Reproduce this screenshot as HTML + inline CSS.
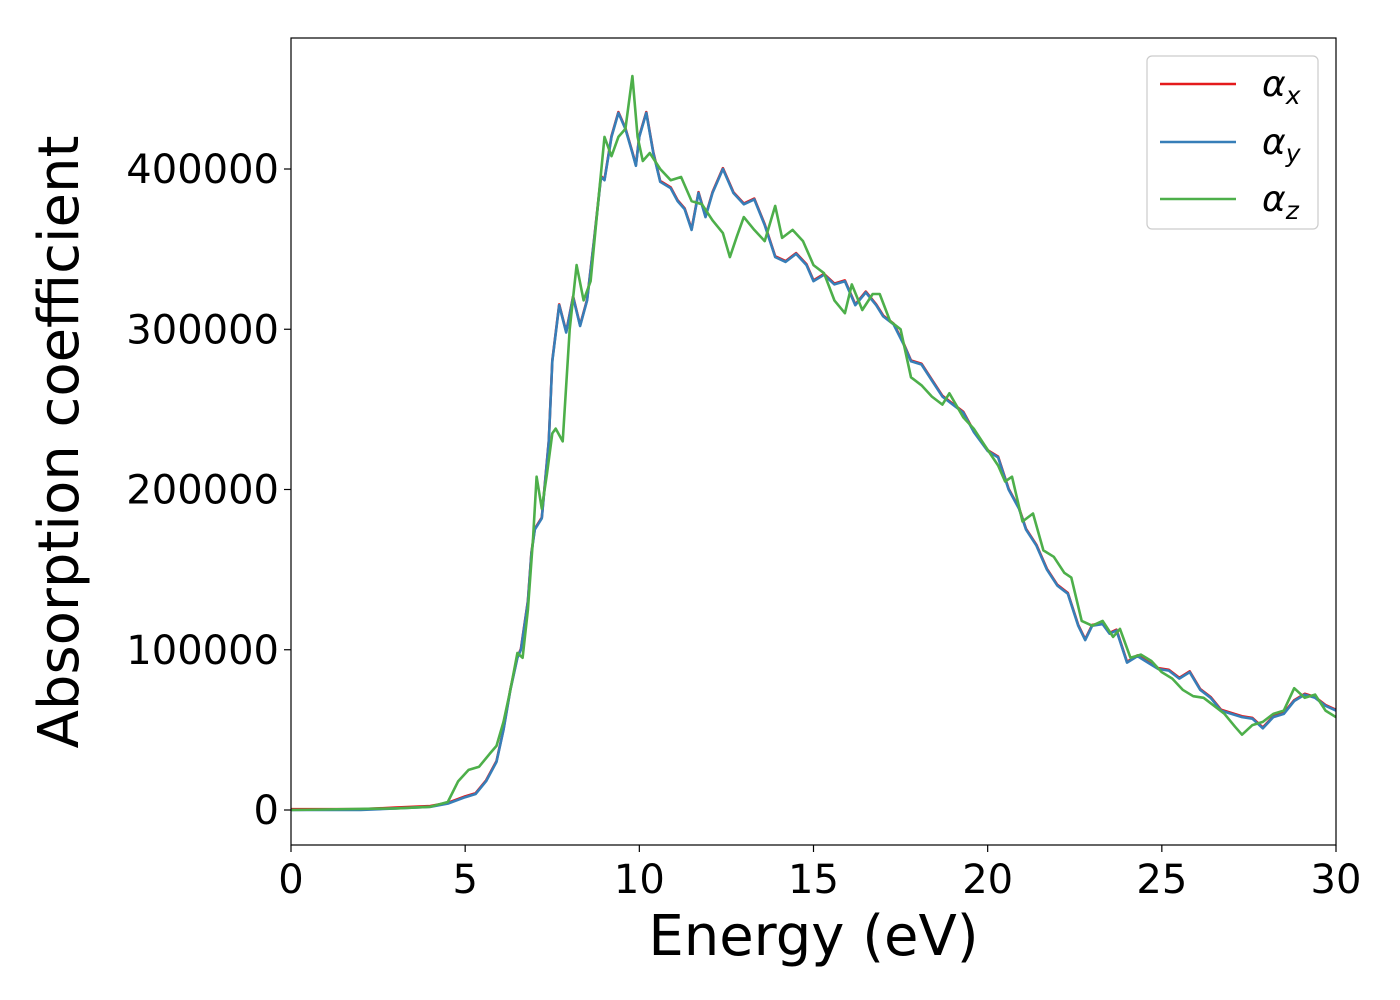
<!DOCTYPE html>
<html><head><meta charset="utf-8"><style>body{margin:0;background:#fff}svg{display:block}</style></head>
<body>
<svg id="chart" width="1400" height="1000" xmlns="http://www.w3.org/2000/svg" font-family="'DejaVu Sans','Liberation Sans',sans-serif">
<g id="plot"></g>
</svg>
<script>
const xTicks=[0,5,10,15,20,25,30];
const yTicks=[0,100000,200000,300000,400000];
const energyXY=[0,2,3,4,4.5,5,5.3,5.6,5.9,6.1,6.3,6.5,6.6,6.8,6.9,7.0,7.2,7.4,7.5,7.7,7.9,8.1,8.3,8.5,8.7,8.9,9.0,9.2,9.4,9.6,9.8,9.9,10.0,10.2,10.4,10.6,10.9,11.1,11.3,11.5,11.7,11.9,12.1,12.4,12.7,13.0,13.3,13.6,13.9,14.2,14.5,14.8,15.0,15.3,15.6,15.9,16.2,16.5,16.8,17.0,17.3,17.6,17.8,18.1,18.4,18.7,19.0,19.3,19.6,20.0,20.3,20.6,20.9,21.1,21.4,21.7,22.0,22.3,22.6,22.8,23.0,23.3,23.5,23.7,24.0,24.3,24.6,24.9,25.2,25.5,25.8,26.1,26.4,26.7,27.0,27.3,27.6,27.9,28.2,28.5,28.8,29.1,29.4,29.7,30];
const alphaY=[0,0,1,2,4,8,10,18,30,50,75,95,100,130,160,175,182,230,280,315,298,320,302,318,355,395,393,420,435,425,410,402,420,435,410,392,388,380,375,362,385,370,385,400,385,378,381,365,345,342,347,340,330,334,328,330,315,323,315,308,303,290,280,278,268,258,253,248,236,224,220,200,188,175,165,150,140,135,115,106,115,116,110,112,92,96,92,88,87,82,86,75,70,62,60,58,57,51,58,60,68,72,70,65,62];
const alphaX=alphaY.map(v=>v+0.5);
const energyZ=[0,3,4,4.5,4.8,5.1,5.4,5.7,5.9,6.1,6.3,6.5,6.65,6.8,6.95,7.05,7.2,7.35,7.5,7.6,7.8,8.0,8.2,8.4,8.6,8.8,9.0,9.2,9.4,9.6,9.8,9.95,10.1,10.3,10.6,10.9,11.2,11.5,11.8,12.1,12.4,12.6,12.8,13.0,13.3,13.6,13.9,14.1,14.4,14.7,15.0,15.3,15.6,15.9,16.1,16.4,16.7,16.9,17.2,17.5,17.8,18.1,18.4,18.7,18.9,19.3,19.6,19.9,20.3,20.5,20.7,21.0,21.3,21.6,21.9,22.2,22.4,22.7,23.0,23.3,23.6,23.8,24.1,24.4,24.7,25.0,25.3,25.6,25.9,26.2,26.5,26.8,27.1,27.3,27.6,27.9,28.2,28.5,28.8,29.1,29.4,29.7,30];
const alphaZ=[0,1,2,5,18,25,27,35,40,55,75,98,95,125,170,208,188,210,235,238,230,300,340,318,330,375,420,408,420,425,458,420,405,410,400,393,395,380,378,368,360,345,358,370,362,355,377,357,362,355,340,335,318,310,328,312,322,322,305,300,270,265,258,253,260,245,238,228,215,205,208,180,185,162,158,148,145,118,115,118,108,113,95,97,93,86,82,75,71,70,65,60,52,47,53,55,60,62,76,70,72,62,58];

const L=291,R=1336,T=38,B=845,Y0=810,Y400=169;
const sx=e=>L+(e/30)*(R-L);
const sy=v=>Y0-(v/400000)*(Y0-Y400);
const NS='http://www.w3.org/2000/svg';
const g=document.getElementById('plot');
function mk(tag,attrs,parent){const el=document.createElementNS(NS,tag);for(const k in attrs)el.setAttribute(k,attrs[k]);(parent||g).appendChild(el);return el;}

const clip=mk('clipPath',{id:'clip'});mk('rect',{x:L,y:T,width:R-L,height:B-T},clip);

function series(xs,ys,color,name){
  const d=xs.map((e,i)=>(i?'L':'M')+sx(e).toFixed(1)+','+sy(ys[i]*1000).toFixed(1)).join('');
  const p=mk('path',{d:d,fill:'none',stroke:color,'stroke-width':2.6,'stroke-linejoin':'round','clip-path':'url(#clip)'});
  
  
}
series(energyXY,alphaX,'#e41a1c','series-alpha-x');
series(energyXY,alphaY,'#377eb8','series-alpha-y');
series(energyZ,alphaZ,'#4daf4a','series-alpha-z');

const frame=mk('rect',{x:L,y:T,width:R-L,height:B-T,fill:'none',stroke:'#000','stroke-width':1.2});



xTicks.forEach(t=>{
  mk('line',{x1:sx(t),x2:sx(t),y1:B,y2:B+7,stroke:'#000','stroke-width':1.2});
  const tx=mk('text',{x:sx(t),y:B+48,'font-size':40,'text-anchor':'middle'});tx.textContent=t;
  
  
});
yTicks.forEach(t=>{
  mk('line',{x1:L-7,x2:L,y1:sy(t),y2:sy(t),stroke:'#000','stroke-width':1.2});
  const tx=mk('text',{x:L-12,y:sy(t)+14,'font-size':40,'text-anchor':'end'});tx.textContent=t;
  
  
});
const xl=mk('text',{x:(L+R)/2,y:955,'font-size':56,'text-anchor':'middle'});xl.textContent='Energy (eV)';


const yl=mk('text',{x:0,y:0,'font-size':56,'text-anchor':'middle',transform:'translate(78,442) rotate(-90)'});yl.textContent='Absorption coefficient';



const lg=mk('g',{});


mk('rect',{x:1147,y:56,width:171,height:173,rx:5,fill:'#fff',stroke:'#ccc','stroke-width':1.2},lg);
[['#e41a1c','x',84],['#377eb8','y',142],['#4daf4a','z',199]].forEach(([c,s,y])=>{
  const e=mk('g',{},lg);
  
  
  mk('line',{x1:1160,x2:1236,y1:y,y2:y,stroke:c,'stroke-width':2.6},e);
  const t=mk('text',{x:1262,y:y+12,'font-size':36,'font-style':'italic'},e);
  t.textContent='α';
  const sub=mk('tspan',{'font-size':25,dy:8},t);sub.textContent=s;
});
</script>
</body></html>
